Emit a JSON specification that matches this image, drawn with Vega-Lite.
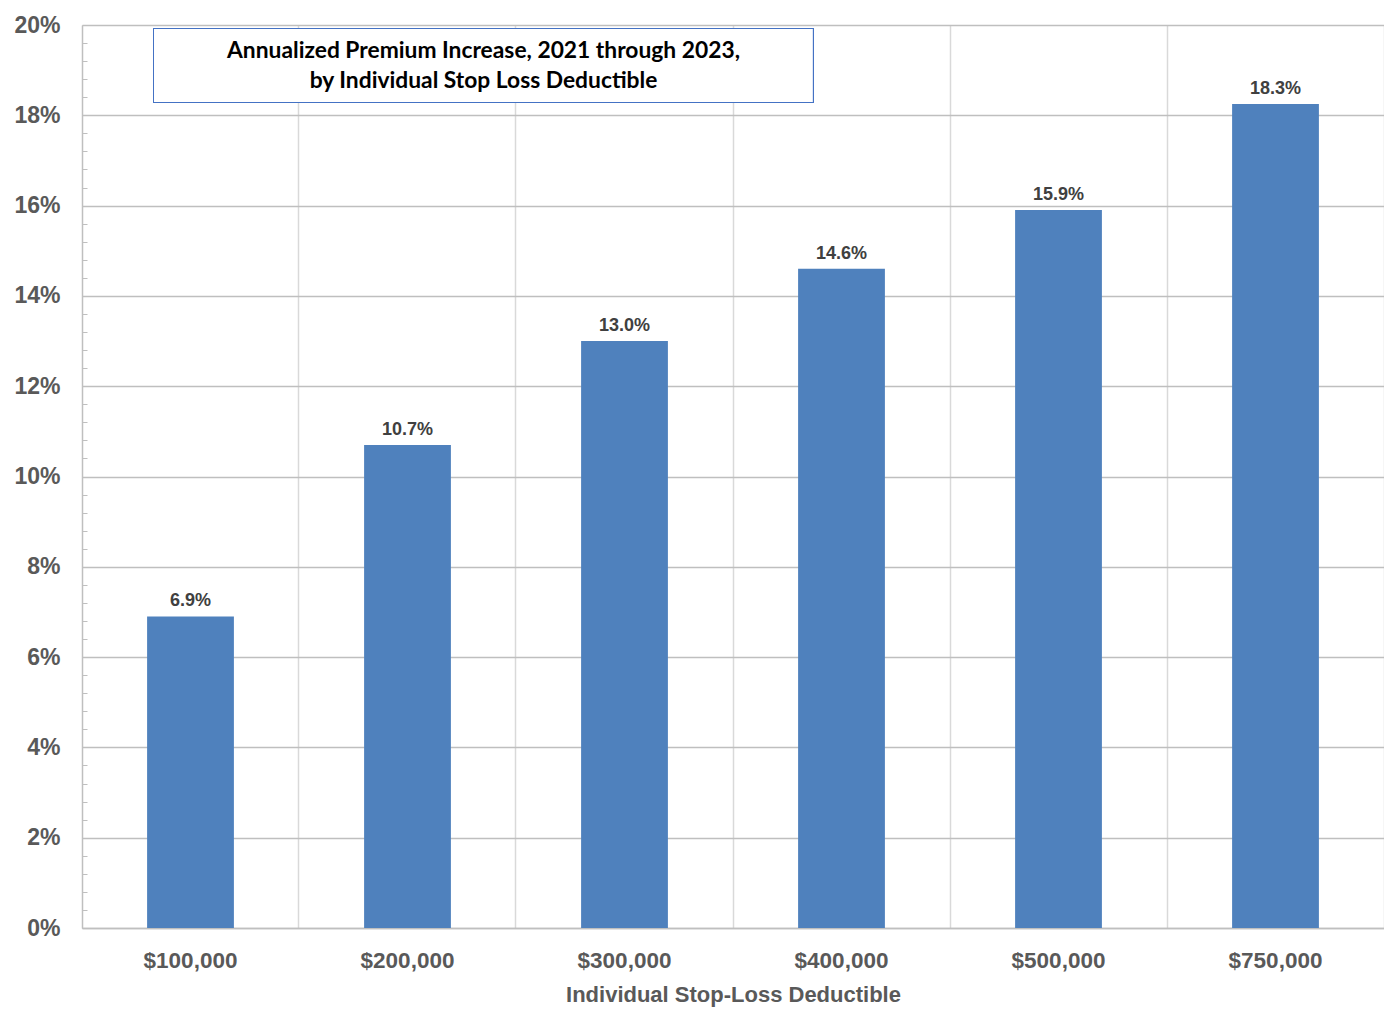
{
  "$schema": "https://vega.github.io/schema/vega-lite/v6.json",
  "autosize": "none",
  "width": 1302,
  "height": 903,
  "padding": {"left": 82, "top": 25, "right": 0, "bottom": 90},
  "background": "white",
  "config": {"view": {"stroke": null}, "style": {"guide-label": {"lineHeight": 30}}, "legend": {"strokeWidth": 2}},
  "data": {"values": [
    {"deductible": "$100,000", "increase": 0.069},
    {"deductible": "$200,000", "increase": 0.107},
    {"deductible": "$300,000", "increase": 0.130},
    {"deductible": "$400,000", "increase": 0.146},
    {"deductible": "$500,000", "increase": 0.159},
    {"deductible": "$750,000", "increase": 0.1825}
  ]},
  "encoding": {
    "x": {
      "field": "deductible", "type": "ordinal", "sort": null,
      "scale": {"paddingInner": 0.6, "paddingOuter": 0.3},
      "axis": {
        "title": "Individual Stop-Loss Deductible",
        "labelAngle": 0,
        "labelFont": "Liberation Sans", "labelFontSize": 22.5, "labelFontWeight": "bold", "labelColor": "#595959",
        "labelPadding": 21,
        "titleFont": "Liberation Sans", "titleFontSize": 22, "titleFontWeight": "bold", "titleColor": "#595959",
        "titlePadding": 13,
        "ticks": false,
        "domainColor": "#bfbfbf", "domainWidth": 1.5,
        "grid": true, "gridColor": "#d9d9d9", "gridWidth": 1.5,
        "bandPosition": 1.75
      }
    },
    "y": {
      "field": "increase", "type": "quantitative",
      "scale": {"domain": [0, 0.2], "nice": false},
      "axis": {
        "title": null,
        "values": [0, 0.004, 0.008, 0.012, 0.016, 0.02, 0.024, 0.028, 0.032, 0.036, 0.04, 0.044, 0.048, 0.052, 0.056, 0.06, 0.064, 0.068, 0.072, 0.076, 0.08, 0.084, 0.088, 0.092, 0.096, 0.1, 0.104, 0.108, 0.112, 0.116, 0.12, 0.124, 0.128, 0.132, 0.136, 0.14, 0.144, 0.148, 0.152, 0.156, 0.16, 0.164, 0.168, 0.172, 0.176, 0.18, 0.184, 0.188, 0.192, 0.196, 0.2],
        "labelExpr": "abs(datum.value*50 - round(datum.value*50)) < 0.01 ? format(datum.value, '.0%') : ''",
        "labelFont": "Liberation Sans", "labelFontSize": 23, "labelFontWeight": "bold", "labelColor": "#595959",
        "labelPadding": 27,
        "tickSize": -5, "tickColor": "#bfbfbf", "tickWidth": 1,
        "domainColor": "#bfbfbf", "domainWidth": 1.5,
        "grid": true, "gridColor": "#bfbfbf", "gridWidth": 1.5,
        "gridOpacity": {"condition": {"test": "abs(datum.value*50 - round(datum.value*50)) < 0.01", "value": 1}, "value": 0}
      }
    }
  },
  "layer": [
    {
      "mark": {"type": "bar", "color": "#4f81bd"}
    },
    {
      "mark": {"type": "text", "baseline": "bottom", "dy": -6, "font": "Liberation Sans", "fontSize": 18, "fontWeight": "bold", "color": "#404040"},
      "encoding": {
        "text": {"field": "increase", "type": "quantitative", "format": ".1%"}
      }
    },
    {
      "mark": {"type": "point", "filled": true, "fill": "white", "stroke": "#4472c4", "strokeWidth": 2, "strokeOpacity": 1, "opacity": 0, "size": 0},
      "encoding": {
        "shape": {
          "datum": "box",
          "scale": {"range": ["M-1,-1H17.05V1H-1Z"]},
          "legend": {
            "orient": "none", "legendX": 72, "legendY": 4,
            "title": null, "padding": 0,
            "strokeColor": "#4472c4",
            "fillColor": "white",
            "symbolSize": 5329,
            "symbolStrokeWidth": 0,
            "symbolFillColor": "white",
            "symbolStrokeColor": "#4472c4",
            "symbolOpacity": 1,
            "labelLimit": 1000,
            "labelOffset": 256.5,
            "labelAlign": "center",
            "labelBaseline": "line-bottom",
            "labelFont": "Lato", "labelFontSize": 22.8, "labelFontWeight": "bold", "labelColor": "black",
            "labelExpr": "['Annualized Premium Increase, 2021 through 2023,', 'by Individual Stop Loss Deductible']"
          }
        }
      }
    }
  ]
}
